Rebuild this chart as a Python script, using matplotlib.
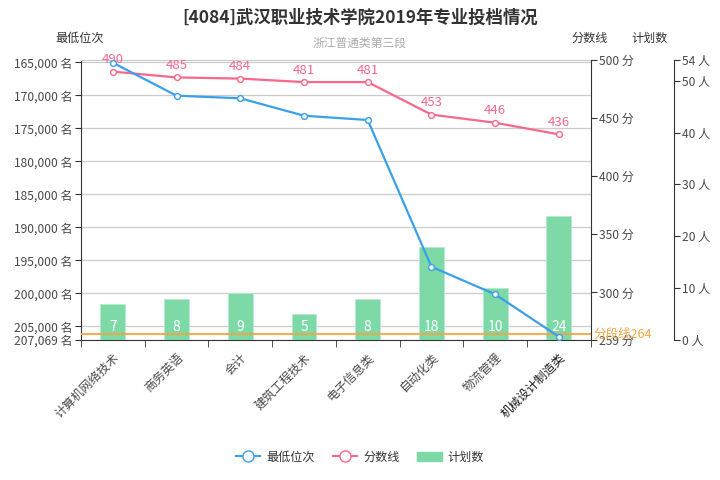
import matplotlib
matplotlib.use("Agg")
import matplotlib.pyplot as plt
from matplotlib.lines import Line2D
from matplotlib.patches import Patch
from matplotlib.ticker import FixedLocator, FuncFormatter

plt.rcParams['font.family'] = ['Noto Sans CJK SC', 'DejaVu Sans']

# datos
majors = ['计算机网络技术', '商务英语', '会计', '建筑工程技术', '电子信息类',
          '自动化类', '物流管理', '机械设计制造类']
rank = [165060, 170060, 170450, 173090, 173740, 195970, 200150, 206570]
score = [490, 485, 484, 481, 481, 453, 446, 436]
plan = [7, 8, 9, 5, 8, 18, 10, 24]
cutoff = 264

rank_ticks = [165000, 170000, 175000, 180000, 185000, 190000, 195000, 200000, 205000, 207069]
score_ticks = [259, 300, 350, 400, 450, 500]
plan_ticks = [0, 10, 20, 30, 40, 50, 54]

blue = '#3ba0e9'
pink = '#f7688a'
green = '#7dd9a6'
orange = '#f5a544'
txt = '#4a4a4a'

fig = plt.figure(figsize=(7.2, 4.8), dpi=100)
ax = fig.add_axes([81 / 720, 140 / 480, 509.7 / 720, 280 / 480])
x = list(range(len(majors)))

# eje de posicion (izquierda) con rejilla
ax.set_xlim(-0.5, len(majors) - 0.5)
ax.set_ylim(207069, 164650)
ax.yaxis.set_major_locator(FixedLocator(rank_ticks))
ax.yaxis.set_major_formatter(FuncFormatter(lambda v, p: '{:,} 名'.format(int(round(v)))))
ax.grid(axis='y', color='#cccccc', lw=0.9)
ax.set_axisbelow(True)
ax.tick_params(axis='y', colors='#333333', labelcolor=txt, labelsize=8.7, length=4, pad=2)
ax.set_xticks(x)
ax.set_xticklabels(majors, rotation=45, ha='right', rotation_mode='anchor', fontsize=8.7, color=txt)
ax.get_xticklabels()[-1].set_color('#1a1a1a')
ax.set_xticks([i - 0.5 for i in range(len(majors) + 1)], minor=True)
ax.tick_params(axis='x', which='major', length=0, pad=8)
ax.tick_params(axis='x', which='minor', length=5, color='#333333')
for s in ['left', 'bottom']:
    ax.spines[s].set_color('#333333')
ax.spines['top'].set_color('#cccccc')
ax.spines['right'].set_visible(False)

# eje plan (barras)
axp = ax.twinx()
axp.set_ylim(0, 54)
axp.bar(x, plan, width=0.39, color=green, edgecolor='#b5ecd0', lw=0.6)
for i, v in enumerate(plan):
    axp.annotate(str(v), xy=(i, 0), xytext=(0, 9.5), textcoords='offset points',
                 ha='center', va='center', color='white', fontsize=10)
axp.yaxis.set_major_locator(FixedLocator(plan_ticks))
axp.yaxis.set_major_formatter(FuncFormatter(lambda v, p: '%d 人' % v))
axp.spines['right'].set_position(('outward', 60))
axp.spines['right'].set_color('#333333')
for s in ['left', 'top', 'bottom']:
    axp.spines[s].set_visible(False)
axp.tick_params(axis='y', colors='#333333', labelcolor=txt, labelsize=8.7, length=4, pad=2)

# eje de puntaje
axs = ax.twinx()
axs.set_ylim(259, 500)
axs.axhline(cutoff, color=orange, lw=1.5, alpha=0.9)
axs.annotate('分段线%d' % cutoff, xy=(1, cutoff), xycoords=('axes fraction', 'data'),
             xytext=(2, 0), textcoords='offset points', va='center', ha='left',
             color=orange, fontsize=9)
axs.plot(x, score, color=pink, lw=1.6, marker='o', ms=4.2, mfc='white', mec=pink, mew=1)
for i, v in enumerate(score):
    axs.annotate(str(v), xy=(i, v), xytext=(0, 4), textcoords='offset points',
                 ha='center', va='bottom', color=pink, fontsize=9.5)
axs.yaxis.set_major_locator(FixedLocator(score_ticks))
axs.yaxis.set_major_formatter(FuncFormatter(lambda v, p: '%d 分' % v))
axs.spines['right'].set_color('#333333')
for s in ['left', 'top', 'bottom']:
    axs.spines[s].set_visible(False)
axs.tick_params(axis='y', colors='#333333', labelcolor=txt, labelsize=8.7, length=4, pad=2)

# linea de posicion, encima de todo
axr = ax.twinx()
axr.set_ylim(ax.get_ylim())
axr.plot(x, rank, color=blue, lw=1.6, marker='o', ms=4.2, mfc='white', mec=blue, mew=1)
axr.set_yticks([])
for s in axr.spines.values():
    s.set_visible(False)

ax.set_zorder(1)
axp.set_zorder(2)
axs.set_zorder(3)
axr.set_zorder(4)
for a in [axp, axs, axr]:
    a.patch.set_visible(False)

fig.text(0.5, 1 - 18 / 480, '[4084]武汉职业技术学院2019年专业投档情况', ha='center', va='center',
         fontsize=12.5, fontweight='bold', color='#333333')
fig.text(0.5, 1 - 43 / 480, '浙江普通类第三段', ha='center', va='center', fontsize=8.5, color='#aaaaaa')
fig.text(80 / 720, 1 - 38 / 480, '最低位次', ha='center', va='center', fontsize=8.7, color='#333333')
fig.text(590 / 720, 1 - 38 / 480, '分数线', ha='center', va='center', fontsize=8.7, color='#333333')
fig.text(650 / 720, 1 - 38 / 480, '计划数', ha='center', va='center', fontsize=8.7, color='#333333')

handles = [Line2D([], [], color=blue, marker='o', ms=8, mfc='white', mec=blue, lw=1.5),
           Line2D([], [], color=pink, marker='o', ms=8, mfc='white', mec=pink, lw=1.5),
           Patch(facecolor=green, edgecolor=green)]
fig.legend(handles, ['最低位次', '分数线', '计划数'], loc='center', bbox_to_anchor=(0.5, 1 - 457 / 480),
           ncol=3, frameon=False, fontsize=8.7, handlelength=2.0, handletextpad=0.5, columnspacing=1.5,
           labelcolor='#333333')

fig.savefig('out.png', dpi=100)
